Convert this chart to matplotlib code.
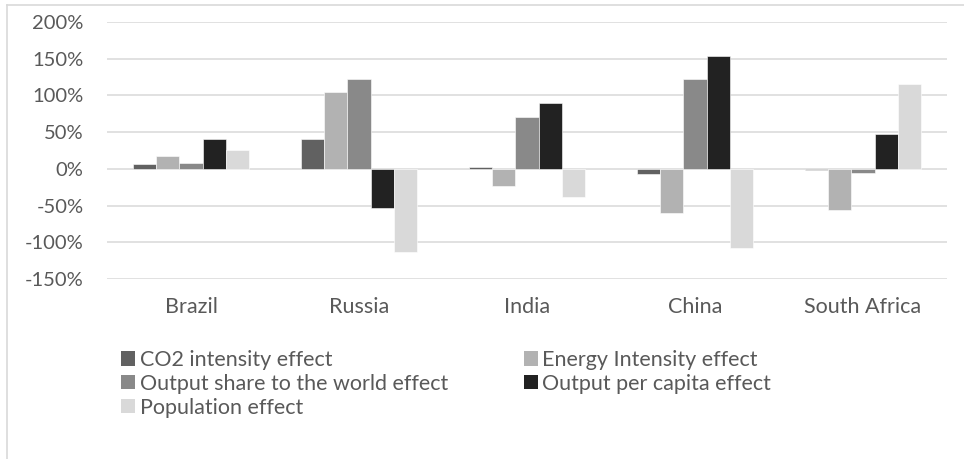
import numpy as np
import matplotlib
matplotlib.use("Agg")
import matplotlib.pyplot as plt
from matplotlib.lines import Line2D
from matplotlib.patches import Patch

# --------------------------------------------------
# Data (in %)
# --------------------------------------------------

countries = ["Brazil", "Russia", "India", "China", "South Africa"]

co2_intensity = [7, 40, 2, -7, -1]
energy_intensity = [18, 105, -23, -60, -56]
output_share = [8, 122, 71, 122, -5]
output_per_capita = [41, -53, 90, 154, 47]
population = [25, -113, -39, -108, 115]

series_names = [
    "CO2 intensity effect",
    "Energy Intensity effect",
    "Output share to the world effect",
    "Output per capita effect",
    "Population effect",
]
series_values = [co2_intensity, energy_intensity, output_share,
                 output_per_capita, population]
series_colors = ["#616161", "#b2b2b2", "#898989", "#222222", "#d9d9d9"]

y_ticks = [-150, -100, -50, 0, 50, 100, 150, 200]

# --------------------------------------------------
# Figure
# --------------------------------------------------

plt.rcParams["font.family"] = ["Lato", "DejaVu Sans"]
text_color = "#595959"
grid_color = "#d9d9d9"

fig = plt.figure(figsize=(9.64, 4.59), dpi=100)
ax = fig.add_axes([107 / 964, 1 - 279 / 459, 840 / 964, 257 / 459])

x = np.arange(len(countries))
bar_w = 0.139
handles = []
for i, (name, vals, col) in enumerate(zip(series_names, series_values, series_colors)):
    offs = (i - 2) * bar_w
    ax.bar(x + offs, vals, width=bar_w, color=col, edgecolor="white",
           linewidth=0.4, zorder=3)
    handles.append(Patch(facecolor=col, edgecolor="none", label=name))

ax.set_xlim(-0.5, len(countries) - 0.5)
ax.set_ylim(-150, 200)
ax.set_yticks(y_ticks)
ax.set_yticklabels([f"{v}%" for v in y_ticks])
ax.set_xticks(x)
ax.set_xticklabels(countries)

for v in y_ticks:
    ax.axhline(v, color=grid_color, linewidth=1.1, zorder=1)

for s in ax.spines.values():
    s.set_visible(False)
ax.tick_params(axis="both", length=0, colors=text_color)
ax.tick_params(axis="y", pad=17, labelsize=14.5)
ax.tick_params(axis="x", pad=13, labelsize=15.5)

# legend, row-major order like the original
order = [0, 2, 4, 1, 3]
fig.legend([handles[k] for k in order], [series_names[k] for k in order],
           ncol=2, loc="upper left", bbox_to_anchor=(121 / 964, 1 - 350 / 459),
           frameon=False, fontsize=15.5, labelcolor=text_color,
           handlelength=0.65, handleheight=0.65, handletextpad=0.23,
           columnspacing=3.5, labelspacing=0.18, borderaxespad=0, borderpad=0)

# chart frame (left and top edges visible)
fig.add_artist(Line2D([7 / 964, 7 / 964], [0, 1 - 5 / 459], color=grid_color,
                      linewidth=1.2, transform=fig.transFigure))
fig.add_artist(Line2D([7 / 964, 1], [1 - 5 / 459, 1 - 5 / 459], color=grid_color,
                      linewidth=1.2, transform=fig.transFigure))

fig.savefig("out.png", dpi=100)
